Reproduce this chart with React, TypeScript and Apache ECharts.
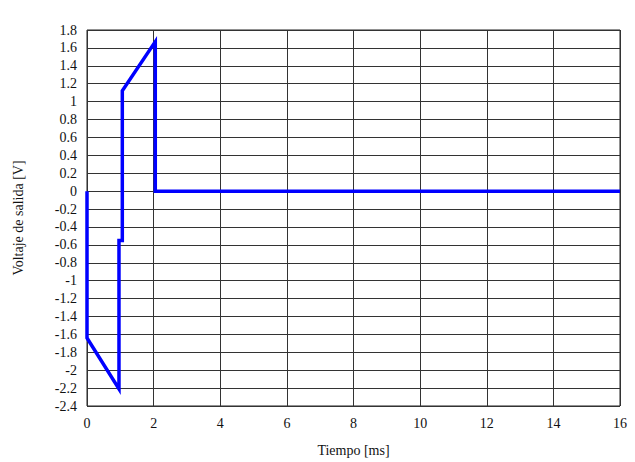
import React, { useEffect, useRef } from "react";
import * as echarts from "echarts";

const timeMs = [0, 0, 0.96, 0.96, 1.06, 1.06, 2.05, 2.05, 16];
const voltage = [0, -1.64, -2.21, -0.55, -0.55, 1.12, 1.67, 0, 0];
const xTicks = { min: 0, max: 16, interval: 2 };
const yTicks = { min: -2.4, max: 1.8, interval: 0.2 };

export default function App() {
  const ref = useRef<HTMLDivElement>(null);
  useEffect(() => {
    if (!ref.current) return;
    const chart = echarts.init(ref.current, null, { renderer: "svg" });
    const font = "Liberation Serif";
    chart.setOption({
      animation: false,
      backgroundColor: "#ffffff",
      textStyle: { fontFamily: font },
      grid: {
        left: 87,
        right: 15,
        top: 30,
        bottom: 52,
        show: true,
        borderColor: "#222",
        borderWidth: 1,
      },
      xAxis: {
        type: "value",
        min: xTicks.min,
        max: xTicks.max,
        interval: xTicks.interval,
        name: "Tiempo [ms]",
        nameLocation: "middle",
        nameGap: 37,
        nameTextStyle: { fontFamily: font, fontSize: 14, color: "#111" },
        axisLine: { show: false },
        axisTick: { show: false },
        axisLabel: { fontFamily: font, fontSize: 14, color: "#111", margin: 10 },
        splitLine: { show: true, lineStyle: { color: "#333", width: 1 } },
      },
      yAxis: {
        type: "value",
        min: yTicks.min,
        max: yTicks.max,
        interval: yTicks.interval,
        name: "Voltaje de salida [V]",
        nameLocation: "middle",
        nameGap: 62,
        nameTextStyle: { fontFamily: font, fontSize: 14, color: "#111" },
        axisLine: { show: false },
        axisTick: { show: false },
        axisLabel: {
          fontFamily: font,
          fontSize: 14,
          color: "#111",
          margin: 10,
          formatter: (v: number) => String(Math.round(v * 10) / 10),
        },
        splitLine: { show: true, lineStyle: { color: "#333", width: 1 } },
      },
      series: [
        {
          type: "line",
          data: timeMs.map((t, i) => [t, voltage[i]]),
          showSymbol: false,
          symbol: "none",
          lineStyle: { color: "#0000ff", width: 3.5, join: "miter" },
          itemStyle: { color: "#0000ff" },
        },
      ],
    });
    return () => chart.dispose();
  }, []);
  return (
    <div
      ref={ref}
      style={{ position: "fixed", left: 0, top: 0, width: 635, height: 462 }}
    />
  );
}
